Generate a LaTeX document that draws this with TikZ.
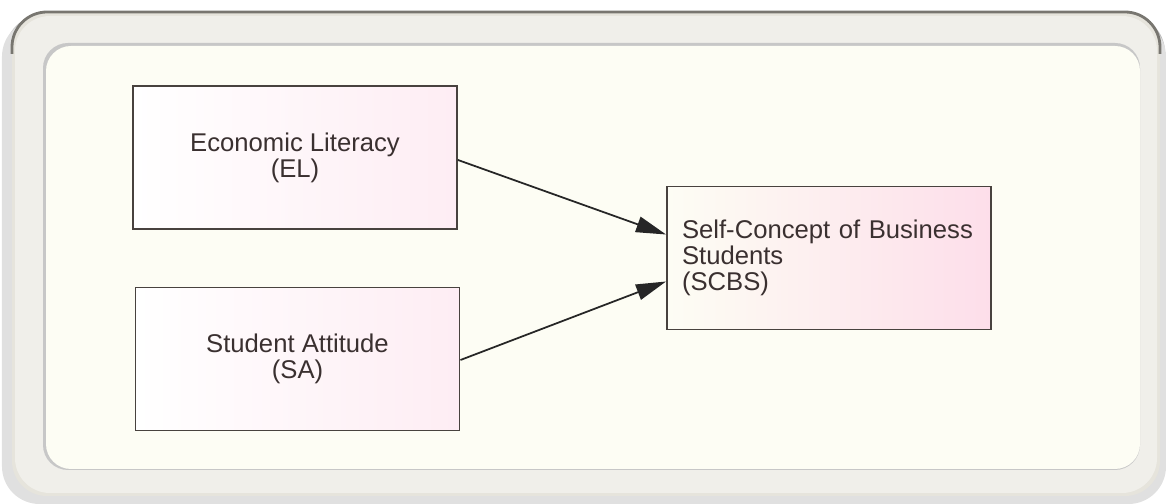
\documentclass[tikz,border=0pt]{standalone}
\usepackage{fontspec}
\setmainfont{Liberation Sans}
\usetikzlibrary{arrows.meta, positioning}
\usepackage{xcolor}
\definecolor{framegray}{RGB}{230,228,220}
\definecolor{frameedge}{RGB}{120,118,112}
\definecolor{panelbg}{RGB}{253,253,244}
\definecolor{boxline}{RGB}{72,66,62}
\definecolor{boxpink}{RGB}{253,222,234}
\definecolor{txtcol}{RGB}{58,48,48}
\tikzset{
  varbox/.style  = {draw=boxline, line width=1.1pt, left color=white, right color=boxpink!55,
                    minimum width=6.48cm, minimum height=2.86cm, align=center,
                    text=txtcol, font=\fontsize{14.6}{14.9}\selectfont},
  depbox/.style  = {varbox, left color=panelbg, right color=boxpink, align=left,
                    text width=5.88cm, inner xsep=0.3cm},
  path/.style    = {-{Triangle[length=6mm, width=3.2mm]}, line width=1pt, color=black!85},
}

\begin{document}
\begin{tikzpicture}
  \useasboundingbox (0,0) rectangle (23.32,10.08);
  % outer frame with shadow
  \fill[black!25, rounded corners=0.75cm] (0.1,0.02) rectangle (23.3,9.78);
  \fill[black!12, rounded corners=0.75cm] (0.04,0.0) rectangle (23.32,9.7);
  \fill[framegray, rounded corners=0.7cm] (0.24,0.16) rectangle (23.2,9.84);
  \draw[frameedge, line width=1.6pt, rounded corners=0.7cm]
    (0.24,9.0) -- (0.24,9.84) -- (23.2,9.84) -- (23.2,9.0);
  \fill[framegray!60!white, rounded corners=0.7cm] (0.3,0.22) rectangle (23.14,9.76);
  % inner panel
  \fill[black!22, rounded corners=0.5cm] (0.86,0.68) rectangle (22.8,9.22);
  \fill[panelbg, rounded corners=0.5cm] (0.92,0.7) rectangle (22.8,9.16);
  % variables
  \node[varbox] (el) at (5.9,6.93) {Economic Literacy\\(EL)};
  \node[varbox] (sa) at (5.95,2.9) {Student Attitude\\(SA)};
  \node[depbox] (scbs) at (16.58,4.92) {Self-Concept of Business\\Students\\(SCBS)};
  % paths
  \draw[path] ([yshift=-0.05cm]el.east) -- ([yshift=0.47cm]scbs.west);
  \draw[path] ([yshift=-0.02cm]sa.east) -- ([yshift=-0.47cm]scbs.west);
\end{tikzpicture}
\end{document}
